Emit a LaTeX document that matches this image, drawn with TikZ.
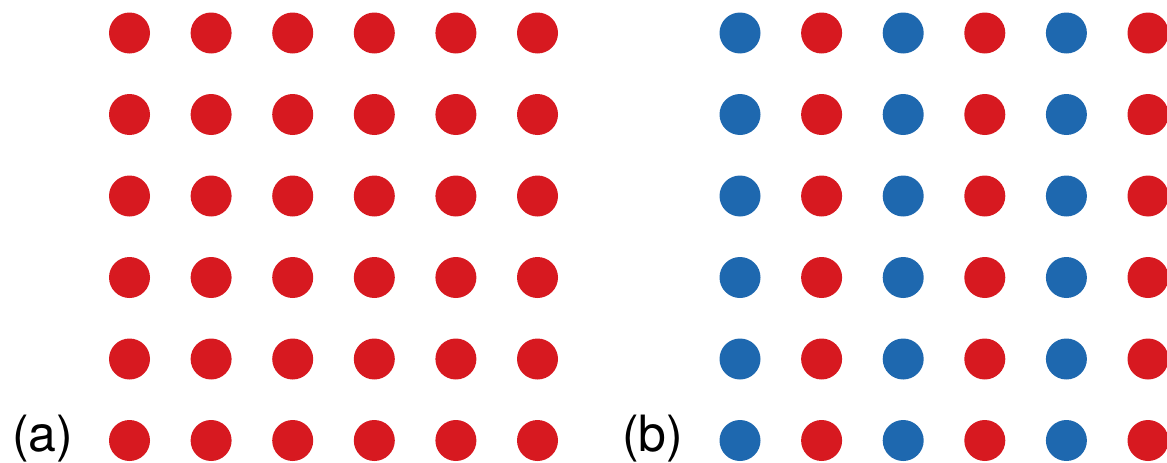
\documentclass[tikz,border=0pt]{standalone}
\usepackage{fontspec}
\setmainfont{TeX Gyre Heros}
\definecolor{dotred}{RGB}{215,25,32}
\definecolor{dotblue}{RGB}{30,104,175}
\begin{document}
\begin{tikzpicture}[x=1pt,y=-1pt,
  dot/.style={circle,inner sep=0pt,minimum size=41pt,draw=none},
  lbl/.style={anchor=base west,inner sep=0pt,font=\fontsize{50}{60}\selectfont}]
\useasboundingbox (0,0) rectangle (1167,463);
\foreach \i in {0,...,5}{
  \foreach \j in {0,...,5}{
    \node[dot,fill=dotred] (a\i\j) at ({129.5+81.6*\i},{33+81.5*\j}) {};
    \pgfmathsetmacro{\pc}{mod(\i,2)==0 ? 1 : 0}
    \ifdim\pc pt>0.5pt
      \node[dot,fill=dotblue] (b\i\j) at ({740+81.6*\i},{33+81.5*\j}) {};
    \else
      \node[dot,fill=dotred] (b\i\j) at ({740+81.6*\i},{33+81.5*\j}) {};
    \fi
  }
}
\node[lbl] (la) at (12,451.5) {(a)};
\node[lbl] (lb) at (622,451.5) {(b)};
\end{tikzpicture}
\end{document}
